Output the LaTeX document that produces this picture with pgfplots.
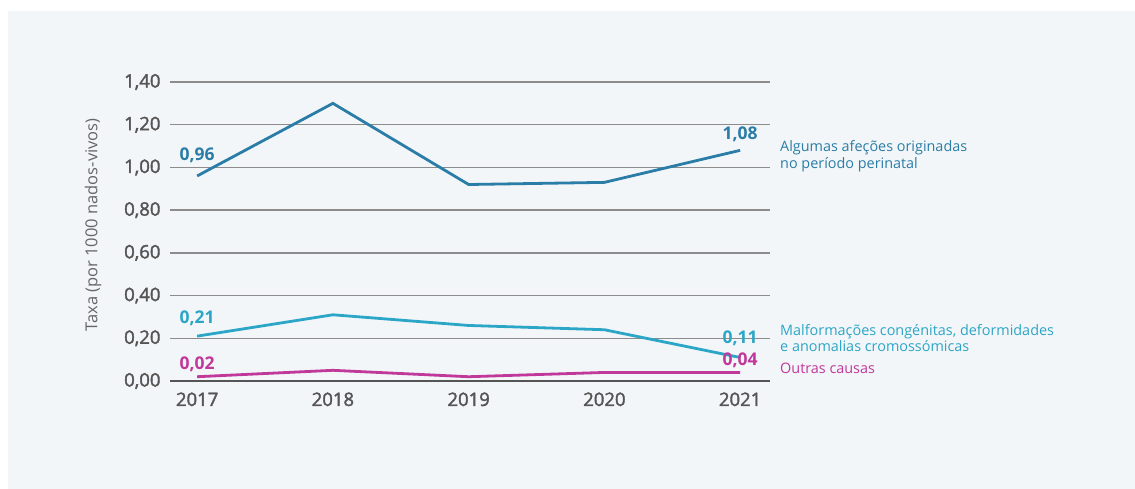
\documentclass[border=0pt]{standalone}
\usepackage{fontspec}
\setmainfont{Open Sans}
\newfontfamily\semib[FakeBold=2]{Open Sans}
\usepackage{pgfplots}
\pgfplotsset{compat=1.18}
\definecolor{panel}{HTML}{F3F6F9}
\definecolor{sdark}{HTML}{2A7DA6}
\definecolor{scyan}{HTML}{2CA6C6}
\definecolor{smag}{HTML}{C0389A}
\definecolor{tgray}{HTML}{555555}
\definecolor{lgray}{HTML}{666666}
\definecolor{ggray}{HTML}{8C8C8C}
\definecolor{agray}{HTML}{555555}
\begin{document}
\begin{tikzpicture}[x=1pt,y=1pt]
\path[use as bounding box, fill=white] (0,0) rectangle (1135,489);
\fill[panel] (8,0) rectangle (1135,478);
\node[rotate=90, text=lgray, font=\fontsize{16.5}{19}\selectfont] at (93,264) {Taxa (por 1000 nados-vivos)};
\begin{axis}[
  at={(170pt,108pt)}, anchor=south west,
  scale only axis, width=600pt, height=299pt,
  xmin=2016.8, xmax=2021.22, ymin=0, ymax=1.4,
  axis line style={draw=none},
  major tick length=0pt,
  ytick={0,0.2,0.4,0.6,0.8,1.0,1.2,1.4},
  yticklabels={{0,00},{0,20},{0,40},{0,60},{0,80},{1,00},{1,20},{1,40}},
  xtick={2017,2018,2019,2020,2021},
  xticklabels={2017,2018,2019,2020,2021},
  ymajorgrids, grid style={ggray, line width=1.3pt},
  ticklabel style={font=\semib\fontsize{18.5}{22}\selectfont, text=tgray},
  yticklabel style={xshift=-6pt},
  xticklabel style={yshift=-8pt},
  clip=false,
]
\draw[agray, line width=2.8pt] (axis cs:2016.8,0) -- (axis cs:2021.22,0);
\addplot[sdark, line width=2.8pt, mark=none] coordinates {(2017,0.96) (2018,1.30) (2019,0.92) (2020,0.93) (2021,1.08)};
\addplot[scyan, line width=2.8pt, mark=none] coordinates {(2017,0.21) (2018,0.31) (2019,0.26) (2020,0.24) (2021,0.11)};
\addplot[smag, line width=2.8pt, mark=none] coordinates {(2017,0.02) (2018,0.05) (2019,0.02) (2020,0.04) (2021,0.04)};
\node[text=sdark, font=\bfseries\fontsize{17.5}{20}\selectfont, yshift=21pt] at (axis cs:2017,0.96) {0,96};
\node[text=sdark, font=\bfseries\fontsize{17.5}{20}\selectfont, yshift=16pt] at (axis cs:2021,1.08) {1,08};
\node[text=scyan, font=\bfseries\fontsize{17.5}{20}\selectfont, yshift=18pt] at (axis cs:2017,0.21) {0,21};
\node[text=scyan, font=\bfseries\fontsize{17.5}{20}\selectfont, yshift=19.5pt] at (axis cs:2021,0.11) {0,11};
\node[text=smag, font=\bfseries\fontsize{17.5}{20}\selectfont, yshift=12pt] at (axis cs:2017,0.02) {0,02};
\node[text=smag, font=\bfseries\fontsize{17.5}{20}\selectfont, yshift=12pt] at (axis cs:2021,0.04) {0,04};
\end{axis}
\node[anchor=west, align=left, text=sdark, font=\fontsize{14.4}{16.5}\selectfont, inner sep=0pt] at (780,333) {Algumas afeções originadas\\no período perinatal};
\node[anchor=west, align=left, text=scyan, font=\fontsize{14.4}{16.5}\selectfont, inner sep=0pt] at (780,151) {Malformações congénitas, deformidades\\e anomalias cromossómicas};
\node[anchor=west, align=left, text=smag, font=\fontsize{14.4}{16.5}\selectfont, inner sep=0pt] at (780,121) {Outras causas};
\end{tikzpicture}
\end{document}
